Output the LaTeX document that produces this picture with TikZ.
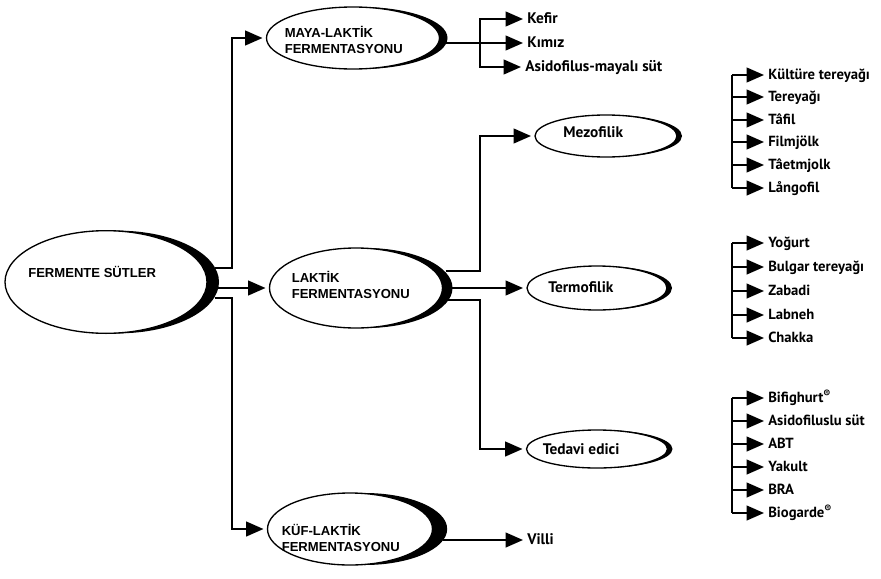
\documentclass[tikz,border=0pt]{standalone}
\usepackage{fontspec}
\setmainfont{PT Sans}
\newfontfamily\capsfont{Liberation Sans}
\usepackage{xcolor}
\usepackage{tikz}
\usetikzlibrary{arrows.meta, positioning, shapes.geometric, shadows, calc}

\tikzset{
  bubble/.style={ellipse, draw=black, line width=1pt, fill=white, inner sep=0pt, outer sep=0pt},
  crescent/.style={general shadow={fill=black, shadow xshift=#1, shadow yshift=0pt}},
  captext/.style={anchor=west, align=left, inner sep=0pt, font=\capsfont\bfseries\fontsize{9.8pt}{12pt}\selectfont},
  subtext/.style={anchor=west, inner sep=0pt, font=\bfseries\fontsize{11.5pt}{13pt}\selectfont},
  item/.style={anchor=west, inner sep=0pt, text height=1.6ex, text depth=0.3ex, font=\bfseries\fontsize{11pt}{13pt}\selectfont},
  bigitem/.style={item, font=\bfseries\fontsize{11.5pt}{13pt}\selectfont},
  link/.style={line width=1.5pt},
  conn/.style={link, -{Triangle[length=13pt, width=11pt]}, shorten >=3pt}
}

\begin{document}
\begin{tikzpicture}[x=0.75pt, y=-0.75pt]
  \useasboundingbox (0,0) rectangle (881,578);

  % Main node
  \node[bubble, crescent=9pt, minimum width=151.5pt, minimum height=77pt] (fs) at (106,282) {};
  \node[captext] (fstext) at ([shift={(23,-10)}]fs.west) {FERMENTE SÜTLER};

  % Fermentation types
  \node[bubble, crescent=6pt, minimum width=129.75pt, minimum height=46.5pt] (maya) at (353,38) {};
  \node[captext] (mayatext) at ([shift={(18,2)}]maya.west) {MAYA-LAKTİK\\FERMENTASYONU};

  \node[bubble, crescent=7.5pt, minimum width=129.75pt, minimum height=60pt] (lak) at (356,288) {};
  \node[captext] (laktext) at ([shift={(22,-3)}]lak.west) {LAKTİK\\FERMENTASYONU};

  \node[bubble, crescent=11pt, minimum width=123.75pt, minimum height=54pt] (kuf) at (350,529) {};
  \node[captext] (kuftext) at ([shift={(14,9)}]kuf.west) {KÜF-LAKTİK\\FERMENTASYONU};

  % Lactic sub groups
  \node[bubble, crescent=3.75pt, minimum width=106.5pt, minimum height=31.5pt] (mez) at (606,136) {};
  \node[subtext] (meztext) at ([shift={(28,-4)}]mez.west) {Mezofilik};

  \node[bubble, crescent=3.75pt, minimum width=105pt, minimum height=33pt] (ter) at (597,288) {};
  \node[subtext] (tertext) at ([shift={(21,-1)}]ter.west) {Termofilik};

  \node[bubble, crescent=3.75pt, minimum width=105.75pt, minimum height=28.5pt] (ted) at (597,449) {};
  \node[subtext] (tedtext) at ([shift={(16,0)}]ted.west) {Tedavi edici};

  % Products
  \node[bigitem] (kefir) at (527,19) {Kefir};
  \node[bigitem] (kimiz) at (527,43) {Kımız};
  \node[bigitem] (asido) at (525,67) {Asidofilus-mayalı süt};
  \node[bigitem] (villi) at (527,540) {Villi};

  % Connectors from main node
  \coordinate (bus1) at (232,0);
  \draw[conn] ([shift={(8,-14)}]fs.east) -| (bus1 |- maya.west) -- (maya.west);
  \draw[conn] ([shift={(8,6)}]fs.east) -- (lak.west);
  \draw[conn] ([shift={(8,16)}]fs.east) -| (bus1 |- kuf.west) -- (kuf.west);

  % Yeast-lactic products
  \coordinate (bus2) at (480,0);
  \draw[conn] ([shift={(6,5)}]maya.east) -- (kimiz.west);
  \draw[conn] (bus2 |- kimiz.west) |- (kefir.west);
  \draw[conn] (bus2 |- kimiz.west) |- (asido.west);

  % Lactic sub groups
  \coordinate (bus3) at (480,0);
  \draw[conn] ([shift={(3,-17)}]lak.east) -| (bus3 |- mez.west) -- (mez.west);
  \draw[conn] ([shift={(8,0)}]lak.east) -- (ter.west);
  \draw[conn] ([shift={(5,12)}]lak.east) -| (bus3 |- ted.west) -- (ted.west);

  % Mould-lactic product
  \draw[conn] ([shift={(10,11)}]kuf.east) -- (villi.west);

  % Product lists
  \coordinate (bus4) at (732,0);
  \foreach \n/\y/\t in {m1/75/Kültüre tereyağı, m2/97/Tereyağı, m3/120/Tâfil, m4/142/Filmjölk, m5/165/Tâetmjolk, m6/188/Långofil} {
    \node[item] (\n) at (768,\y) {\t};
    \draw[conn] (bus4 |- \n.west) -- (\n.west);
  }
  \draw[link] (bus4 |- m1.west) -- (bus4 |- m6.west);

  \foreach \n/\y/\t in {t1/243/Yoğurt, t2/267/Bulgar tereyağı, t3/291/Zabadi, t4/315/Labneh, t5/338/Chakka} {
    \node[item] (\n) at (768,\y) {\t};
    \draw[conn] (bus4 |- \n.west) -- (\n.west);
  }
  \draw[link] (bus4 |- t1.west) -- (bus4 |- t5.west);

  \foreach \n/\y/\t in {d1/398/{Bifighurt\textsuperscript{®}}, d2/421/Asidofiluslu süt, d3/444/ABT, d4/467/Yakult, d5/490/BRA, d6/513/{Biogarde\textsuperscript{®}}} {
    \node[item] (\n) at (768,\y) {\t};
    \draw[conn] (bus4 |- \n.west) -- (\n.west);
  }
  \draw[link] (bus4 |- d1.west) -- (bus4 |- d6.west);
\end{tikzpicture}
\end{document}
